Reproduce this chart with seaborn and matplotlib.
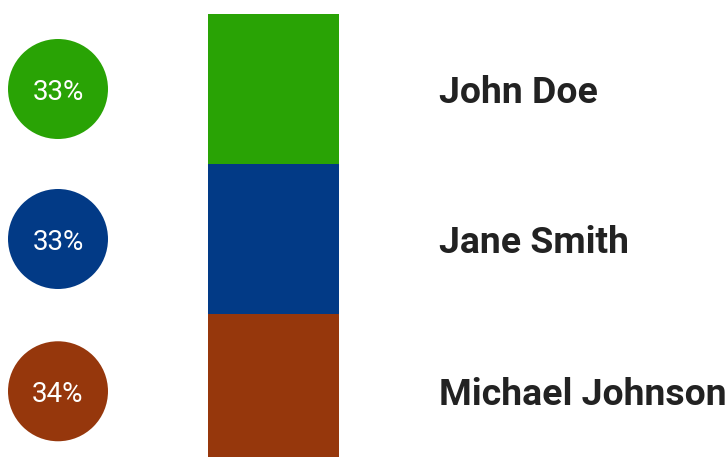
import matplotlib
matplotlib.use("Agg")
import matplotlib.pyplot as plt
import seaborn as sns
import numpy as np

# data
names = ["John Doe", "Jane Smith", "Michael Johnson"]
shares = [33, 33, 34]
colors = ["#29a305", "#023a86", "#96370c"]

sns.set_theme(style="white")
plt.rcParams["font.family"] = ["Roboto", "DejaVu Sans"]

fig = plt.figure(figsize=(7.28, 4.57), dpi=100)
ax = fig.add_axes([0, 0, 1, 1])

# stacked single bar, top to bottom
bottoms = np.concatenate([[0], np.cumsum(shares)[:-1]])
for name, val, b, c in zip(names, shares, bottoms, colors):
    sns.barplot(x=["total"], y=[val], bottom=b, color=c, width=0.8,
                saturation=1, ax=ax, linewidth=0)

# axis mapping: bar centre at 273.5 px, 0.8 units = 131 px
ppu = 131 / 0.8
ax.set_xlim(-273.5 / ppu, (728 - 273.5) / ppu)
pps = 150 / 33  # px per percent
ax.set_ylim((457 - 14) / pps, -14 / pps)

centres = bottoms + np.array(shares) / 2
circ_x = (58 - 273.5) / ppu
ax.scatter([circ_x] * 3, centres, s=72 ** 2, c=colors, linewidths=0, zorder=3,
           clip_on=False)
for y, v in zip(centres, shares):
    ax.text(circ_x, y, f"{v}%", color="white", fontsize=20, fontweight="normal",
            ha="center", va="center_baseline", zorder=4)

name_x = (439 - 273.5) / ppu
for y, n in zip(centres, names):
    ax.text(name_x, y, n, color="#222222", fontsize=26.9, fontweight="bold",
            ha="left", va="center_baseline")

ax.axis("off")
fig.savefig("out.png", dpi=100)
